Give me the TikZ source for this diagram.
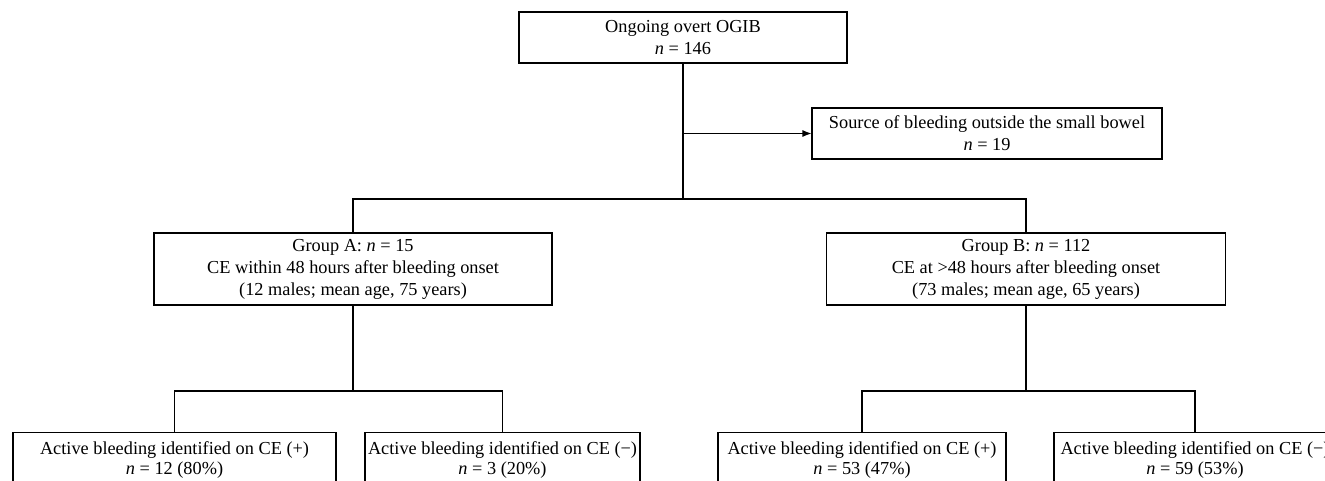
\documentclass[tikz,border=0pt]{standalone}
\usepackage{fontspec}
\setmainfont{Liberation Serif}
\usetikzlibrary{arrows.meta}
\begin{document}
\begin{tikzpicture}[x=1pt,y=-1pt,
  box/.style={draw, line width=1.1pt, align=center, inner sep=0pt, font=\fontsize{18.3}{22}\selectfont},
  cutbox/.style={draw, line width=1.1pt, align=center, anchor=north, inner xsep=0pt, inner ysep=9pt, font=\fontsize{18.3}{20}\selectfont},
  conn/.style={line width=1.1pt}]
\useasboundingbox (0,0) rectangle (1325,481);
\clip (0,0) rectangle (1325,481);
\node[box, minimum width=328pt, minimum height=51pt] (top) at (683,37.5) {Ongoing overt OGIB\\\textit{n} = 146};
\node[box, minimum width=350pt, minimum height=51pt] (src) at (987,133.5) {Source of bleeding outside the small bowel\\\textit{n} = 19};
\node[box, minimum width=398pt, minimum height=72pt] (gA) at (353,269) {Group A: \textit{n} = 15\\CE within 48 hours after bleeding onset\\(12 males; mean age, 75 years)};
\node[box, minimum width=399pt, minimum height=72pt] (gB) at (1026,269) {Group B: \textit{n} = 112\\CE at >48 hours after bleeding onset\\(73 males; mean age, 65 years)};
\node[cutbox, minimum width=323pt] (a1) at (174.5,432) {Active bleeding identified on CE (+)\\\textit{n} = 12 (80\%)};
\node[cutbox, minimum width=275pt] (a2) at (502.5,432) {Active bleeding identified on CE (−)\\\textit{n} = 3 (20\%)};
\node[cutbox, minimum width=288pt] (b1) at (862,432) {Active bleeding identified on CE (+)\\\textit{n} = 53 (47\%)};
\node[cutbox, minimum width=282pt] (b2) at (1195,432) {Active bleeding identified on CE (−)\\\textit{n} = 59 (53\%)};
\coordinate (j1) at (top.south |- 0,199);
\coordinate (ja) at (gA.south |- 0,391);
\coordinate (jb) at (gB.south |- 0,391);
\draw[conn] (top.south) -- (j1);
\draw[conn, -{Latex[length=9pt,width=7pt]}] (top.south |- src.west) -- (src.west);
\draw[conn] (gA.north) |- (j1) -| (gB.north);
\draw[conn] (gA.south) -- (ja);
\draw[conn] (a1.north) |- (ja) -| (a2.north);
\draw[conn] (gB.south) -- (jb);
\draw[conn] (b1.north) |- (jb) -| (b2.north);
\end{tikzpicture}
\end{document}
